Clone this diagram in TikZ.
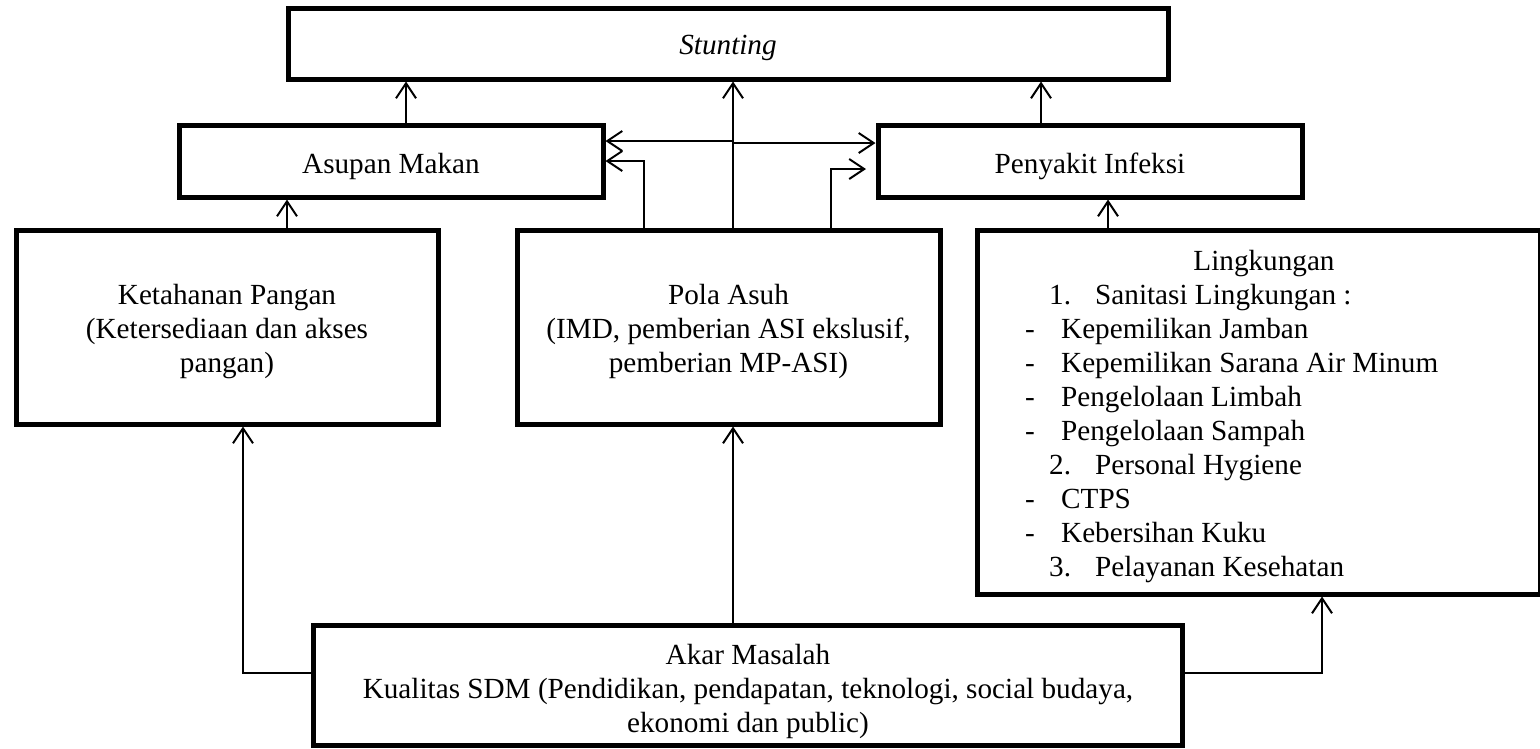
\documentclass[tikz,border=0pt]{standalone}
\usepackage{fontspec}
\setmainfont{Liberation Serif}
\usetikzlibrary{arrows.meta}
\begin{document}
\begin{tikzpicture}[x=1pt,y=-1pt,
  box/.style={draw=black, line width=5pt, rectangle, inner sep=0pt},
  txt/.style={inner sep=0pt, anchor=base, font=\fontsize{29.2pt}{34pt}\selectfont},
  ltxt/.style={txt, anchor=base west},
  conn/.style={line width=2pt},
  tipstyle/.tip={Straight Barb[length=15pt,width=20pt]},
  arr/.style={conn, -tipstyle},
  darr/.style={conn, tipstyle-tipstyle},
]
\useasboundingbox (0,0) rectangle (1540,748);

% boxes
\node[box, minimum width=880pt, minimum height=71pt]  (stunting)   at (728,43.5) {};
\node[box, minimum width=424pt, minimum height=72pt]  (asupan)     at (391,161) {};
\node[box, minimum width=424pt, minimum height=72pt]  (penyakit)   at (1090,161) {};
\node[box, minimum width=422pt, minimum height=194pt] (ketahanan)  at (227,327) {};
\node[box, minimum width=423pt, minimum height=194pt] (pola)       at (728.5,327) {};
\node[box, minimum width=563pt, minimum height=364pt] (lingkungan) at (1258.5,412) {};
\node[box, minimum width=869pt, minimum height=120pt] (akar)       at (747.5,685) {};

% texts
\node[txt] (stuntingtxt) at (728,54) {\itshape Stunting};
\node[txt] (asupantxt) at (391,173) {Asupan Makan};
\node[txt] (penyakittxt) at (1090,173) {Penyakit Infeksi};

\node[txt] (ket1) at (227,304) {Ketahanan Pangan};
\node[txt] (ket2) at (227,338) {(Ketersediaan dan akses};
\node[txt] (ket3) at (227,372) {pangan)};

\node[txt] (pola1) at (728.5,304) {Pola Asuh};
\node[txt] (pola2) at (728.5,338) {(IMD, pemberian ASI ekslusif,};
\node[txt] (pola3) at (728.5,372) {pemberian MP-ASI)};

\node[txt] (akar1) at (748,664) {Akar Masalah};
\node[txt] (akar2) at (748,698) {Kualitas SDM (Pendidikan, pendapatan, teknologi, social budaya,};
\node[txt] (akar3) at (748,732) {ekonomi dan public)};

\node[txt]  (ling0)  at (1264,270) {Lingkungan};
\node[ltxt] (ling1)  at (1049,304) {\makebox[46pt][l]{1.}Sanitasi Lingkungan :};
\node[ltxt] (ling2)  at (1025,338) {\makebox[36pt][l]{-}Kepemilikan Jamban};
\node[ltxt] (ling3)  at (1025,372) {\makebox[36pt][l]{-}Kepemilikan Sarana Air Minum};
\node[ltxt] (ling4)  at (1025,406) {\makebox[36pt][l]{-}Pengelolaan Limbah};
\node[ltxt] (ling5)  at (1025,440) {\makebox[36pt][l]{-}Pengelolaan Sampah};
\node[ltxt] (ling6)  at (1049,474) {\makebox[46pt][l]{2.}Personal Hygiene};
\node[ltxt] (ling7)  at (1025,508) {\makebox[36pt][l]{-}CTPS};
\node[ltxt] (ling8)  at (1025,542) {\makebox[36pt][l]{-}Kebersihan Kuku};
\node[ltxt] (ling9)  at (1049,576) {\makebox[46pt][l]{3.}Pelayanan Kesehatan};

% helper coordinates (columns and rows)
\coordinate (c243) at (243,0);
\coordinate (c287) at (287,0);
\coordinate (c406) at (406,0);
\coordinate (c644) at (644,0);
\coordinate (c733) at (733,0);
\coordinate (c831) at (831,0);
\coordinate (c866) at (866,0);
\coordinate (c1041) at (1041,0);
\coordinate (c1108) at (1108,0);
\coordinate (c1322) at (1322,0);
\coordinate (r141) at (0,141);
\coordinate (r143) at (0,143);
\coordinate (r161) at (0,161);
\coordinate (r169) at (0,169);
\coordinate (r673) at (0,673);

% connectors
\draw[arr] (asupan.north -| c406) -- (stunting.south -| c406);
\draw[arr] (penyakit.north -| c1041) -- (stunting.south -| c1041);
\draw[arr] (pola.north -| c733) -- (stunting.south -| c733);
\draw[darr] (asupan.east |- r141) -- (c733 |- r141) -- (c733 |- r143) -- (penyakit.west |- r143);
\draw[arr] (pola.north -| c644) |- (asupan.east |- r161);
\draw[arr] (pola.north -| c831) |- (c866 |- r169);
\draw[arr] (ketahanan.north -| c287) -- (asupan.south -| c287);
\draw[arr] (lingkungan.north -| c1108) -- (penyakit.south -| c1108);
\draw[arr] (akar.west |- r673) -| (ketahanan.south -| c243);
\draw[arr] (akar.north -| c733) -- (pola.south -| c733);
\draw[arr] (akar.east |- r673) -| (lingkungan.south -| c1322);
\end{tikzpicture}
\end{document}
